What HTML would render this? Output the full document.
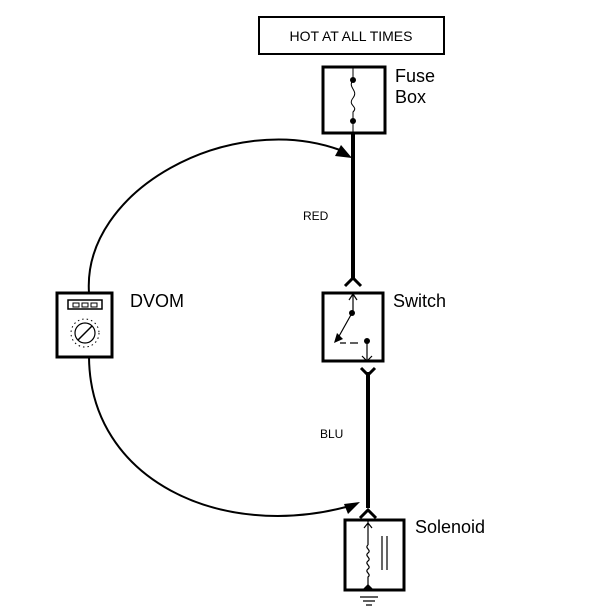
<!DOCTYPE html><html><head><style>body{margin:0;background:#fff}svg{display:block}text{font-family:"Liberation Sans",sans-serif;fill:#000}</style></head><body>
<svg width="608" height="610" viewBox="0 0 608 610">
<rect x="259" y="17" width="185" height="37" fill="none" stroke="#000" stroke-width="2"/>
<text x="351" y="41" font-size="14" text-anchor="middle">HOT AT ALL TIMES</text>
<rect x="323" y="67" width="62" height="66" fill="none" stroke="#000" stroke-width="3"/>
<path d="M353 67V80M353 80c-6 8 6 10 0 18s6 8 0 14V133" fill="none" stroke="#000" stroke-width="1"/>
<circle cx="353" cy="80" r="3"/><circle cx="353" cy="121" r="3"/>
<text x="395" y="82" font-size="18">Fuse</text><text x="395" y="103" font-size="18">Box</text>
<line x1="353" y1="133" x2="353" y2="280" stroke="#000" stroke-width="4"/>
<path d="M345 286l8-8 8 8" fill="none" stroke="#000" stroke-width="3"/>
<text x="303" y="220" font-size="12">RED</text>
<rect x="323" y="293" width="60" height="68" fill="none" stroke="#000" stroke-width="3"/>
<path d="M353 293V313M349 300l4-6 4 6M352 313L338 338M340 343h6M350 343h8M367 342V361M362 356l5 5 5-5" fill="none" stroke="#000" stroke-width="1.2"/>
<circle cx="352" cy="313" r="3"/><circle cx="367" cy="341" r="3"/><path d="M334 343l3-10 6 6z"/>
<text x="393" y="307" font-size="18">Switch</text>
<path d="M361 368l7 7 7-7" fill="none" stroke="#000" stroke-width="3"/>
<line x1="368" y1="372" x2="368" y2="508" stroke="#000" stroke-width="4"/>
<path d="M360 518l8-8 8 8" fill="none" stroke="#000" stroke-width="3"/>
<text x="320" y="438" font-size="12">BLU</text>
<rect x="345" y="520" width="59" height="70" fill="none" stroke="#000" stroke-width="3"/>
<path d="M368 520V545M364 528l4-5 4 5M368 545c-4 3 4 5 0 8s4 5 0 8s4 5 0 8s4 5 0 8V590M382 536V570M387 536V570M360 597h18M363 601h12M366 605h6" fill="none" stroke="#000" stroke-width="1.2"/>
<path d="M362 590l6-6 6 6z"/>
<text x="415" y="533" font-size="18">Solenoid</text>
<rect x="57" y="293" width="55" height="64" fill="none" stroke="#000" stroke-width="3"/>
<rect x="68" y="300" width="34" height="9" fill="none" stroke="#000" stroke-width="1.5"/>
<path d="M73 303h6v4h-6zM82 303h6v4h-6zM91 303h6v4h-6z" fill="none" stroke="#000"/>
<circle cx="85" cy="333" r="10" fill="none" stroke="#000" stroke-width="1.2"/>
<line x1="78" y1="340" x2="92" y2="326" stroke="#000" stroke-width="1.5"/>
<circle cx="85" cy="333" r="14" fill="none" stroke="#000" stroke-width="1" stroke-dasharray="1.5 3"/>
<text x="130" y="307" font-size="18">DVOM</text>
<path d="M89 293C82 190 230 110 340 150" fill="none" stroke="#000" stroke-width="2"/>
<path d="M352 158l-17-2 6-11z"/>
<path d="M89 357C90 480 220 540 346 507" fill="none" stroke="#000" stroke-width="2"/>
<path d="M360 502l-12 12-4-10z"/>
</svg></body></html>
